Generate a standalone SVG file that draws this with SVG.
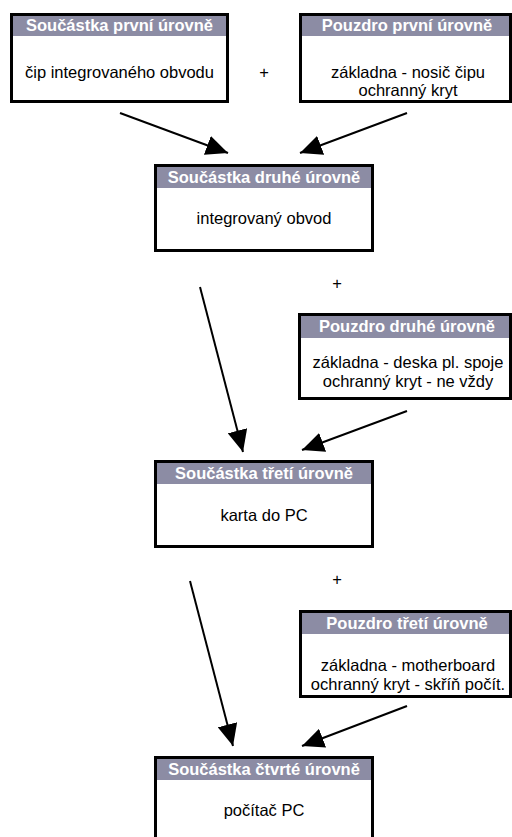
<svg xmlns="http://www.w3.org/2000/svg" width="512" height="837" viewBox="0 0 512 837">
<style>
.box{fill:#fff;stroke:#000;stroke-width:3}
.hdr{fill:#8c8ca4}
.ht{font-family:"Liberation Sans",Arial,sans-serif;font-size:16.5px;font-weight:bold;fill:#fff;text-anchor:middle}
.bt{font-family:"Liberation Sans",Arial,sans-serif;font-size:16.5px;fill:#000;text-anchor:middle}
.conn line{stroke:#000;stroke-width:2;marker-end:url(#ah)}
</style>
<defs>
<marker id="ah" markerUnits="userSpaceOnUse" markerWidth="24" markerHeight="20" refX="22" refY="10" orient="auto">
<path d="M0,0 L22,10 L0,20 z" fill="#000"/>
</marker>
</defs>
<rect width="512" height="837" fill="#fff"/>
<g id="n1">
<rect class="box" x="11.5" y="14.5" width="216" height="87"/>
<rect class="hdr" x="13" y="16" width="213" height="20"/>
<text class="ht" x="119.5" y="31">Součástka první úrovně</text>
<text class="bt" x="119.5" y="78">čip integrovaného obvodu</text>
</g>
<g id="n2">
<rect class="box" x="300.5" y="14.5" width="210" height="87"/>
<rect class="hdr" x="302" y="16" width="207" height="20"/>
<text class="ht" x="407" y="31">Pouzdro první úrovně</text>
<text class="bt" x="408" y="78">základna - nosič čipu</text>
<text class="bt" x="408" y="96">ochranný kryt</text>
</g>
<text class="bt" x="264" y="78">+</text>
<g id="n3">
<rect class="box" x="155.5" y="165.5" width="217" height="85"/>
<rect class="hdr" x="157" y="167" width="214" height="21"/>
<text class="ht" x="264" y="183">Součástka druhé úrovně</text>
<text class="bt" x="264" y="224">integrovaný obvod</text>
</g>
<text class="bt" x="337" y="289">+</text>
<g id="n4">
<rect class="box" x="299.5" y="314.5" width="211" height="84"/>
<rect class="hdr" x="301" y="316" width="208" height="22"/>
<text class="ht" x="407" y="332">Pouzdro druhé úrovně</text>
<text class="bt" x="408" y="368">základna - deska pl. spoje</text>
<text class="bt" x="408" y="387">ochranný kryt - ne vždy</text>
</g>
<g id="n5">
<rect class="box" x="155.5" y="461.5" width="217" height="85"/>
<rect class="hdr" x="157" y="463" width="214" height="21"/>
<text class="ht" x="264" y="479">Součástka třetí úrovně</text>
<text class="bt" x="264" y="521">karta do PC</text>
</g>
<text class="bt" x="337" y="585">+</text>
<g id="n6">
<rect class="box" x="300.5" y="611.5" width="210" height="85"/>
<rect class="hdr" x="302" y="613" width="207" height="21"/>
<text class="ht" x="407" y="629">Pouzdro třetí úrovně</text>
<text class="bt" x="408" y="671">základna - motherboard</text>
<text class="bt" x="408" y="690">ochranný kryt - skříň počít.</text>
</g>
<g id="n7">
<rect class="box" x="155.5" y="757.5" width="217" height="90"/>
<rect class="hdr" x="157" y="759" width="214" height="21"/>
<text class="ht" x="264" y="775">Součástka čtvrté úrovně</text>
<text class="bt" x="264" y="816">počítač PC</text>
</g>
<g id="connectors" class="conn">
<line x1="120" y1="113" x2="228" y2="153"/>
<line x1="407" y1="113" x2="300" y2="153"/>
<line x1="200" y1="287" x2="243" y2="452"/>
<line x1="407" y1="411" x2="302" y2="450"/>
<line x1="190" y1="581" x2="233" y2="746"/>
<line x1="407" y1="706" x2="302" y2="746"/>
</g>
</svg>
